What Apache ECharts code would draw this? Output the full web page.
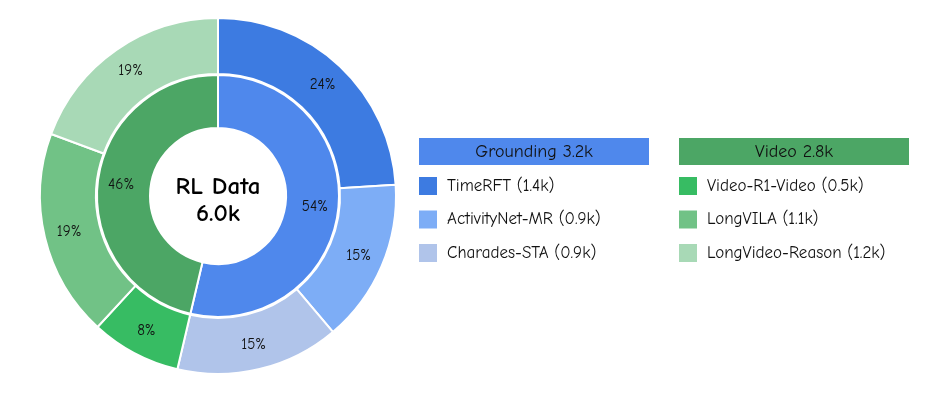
<!DOCTYPE html>
<html><head><meta charset="utf-8">
<script src="https://cdn.jsdelivr.net/npm/echarts@6/dist/echarts.min.js"></script>
<style>html,body{margin:0;padding:0;background:#fff}#c{width:946px;height:394px}</style>
</head><body><div id="c"></div>
<script>
const FONT = '"Comic Sans MS","Comic Neue","DejaVu Sans",sans-serif';
const groupNames = ['Grounding', 'Video'];
const groupValues = [3.22, 2.78];
const groupColors = ['#4F88EC', '#4CA665'];
const groundingNames = ['TimeRFT', 'ActivityNet-MR', 'Charades-STA'];
const groundingValues = [1.44, 0.89, 0.89];
const groundingColors = ['#3D7BE1', '#7DADF6', '#B0C4EA'];
const videoNames = ['Video-R1-Video', 'LongVILA', 'LongVideo-Reason'];
const videoValues = [0.49, 1.13, 1.16];
const videoColors = ['#37BC63', '#71C286', '#A8D9B6'];
const centerTitle = 'RL Data';
const totalValue = 6.0;

const outerData = [];
groundingNames.forEach((n,i)=>outerData.push({name:n,value:groundingValues[i],itemStyle:{color:groundingColors[i]}}));
videoNames.forEach((n,i)=>outerData.push({name:n,value:videoValues[i],itemStyle:{color:videoColors[i]}}));
const innerData = groupNames.map((n,i)=>({name:n,value:groupValues[i],itemStyle:{color:groupColors[i]}}));
const valMap = {};
outerData.forEach(d=>valMap[d.name]=d.value);

const cx = 218, cy = 196;
const chart = echarts.init(document.getElementById('c'));
const pctLabel = {show:true, position:'inside', color:'#111', fontSize:15, fontFamily:FONT,
  formatter:p=>Math.round(p.percent)+'%'};
const legendBase = {orient:'vertical', icon:'rect', itemWidth:18, itemHeight:18, itemGap:15.5,
  padding:0, top:177, selectedMode:false, itemStyle:{borderWidth:0},
  textStyle:{fontSize:17, fontFamily:FONT, color:'#111', padding:[0,0,0,5]},
  formatter:n=>n+' ('+valMap[n].toFixed(1)+'k)'};
chart.setOption({
  animation:false,
  legend:[
    Object.assign({}, legendBase, {left:419, data:groundingNames}),
    Object.assign({}, legendBase, {left:679, data:videoNames})
  ],
  series:[
    {type:'pie', center:[cx,cy], radius:[68,121], startAngle:90, clockwise:true,
     itemStyle:{borderColor:'#fff', borderWidth:2}, label:pctLabel, labelLine:{show:false},
     emphasis:{disabled:true}, data:innerData},
    {type:'pie', center:[cx,cy], radius:[122,178], startAngle:90, clockwise:true,
     itemStyle:{borderColor:'#fff', borderWidth:2}, label:pctLabel, labelLine:{show:false},
     emphasis:{disabled:true}, data:outerData}
  ],
  graphic:[
    {type:'text', x:cx, y:cy+4, style:{text:centerTitle+'\n'+totalValue.toFixed(1)+'k', align:'center', verticalAlign:'middle',
      font:'bold 25px '+FONT, lineHeight:27, fill:'#000'}},
    {type:'rect', shape:{x:419, y:138, width:230, height:27}, style:{fill:groupColors[0]}},
    {type:'text', x:534, y:152, style:{text:groupNames[0]+' '+groupValues[0].toFixed(1)+'k', align:'center', verticalAlign:'middle',
      font:'18px '+FONT, fill:'#111'}},
    {type:'rect', shape:{x:679, y:138, width:230, height:27}, style:{fill:groupColors[1]}},
    {type:'text', x:794, y:152, style:{text:groupNames[1]+' '+groupValues[1].toFixed(1)+'k', align:'center', verticalAlign:'middle',
      font:'18px '+FONT, fill:'#111'}}
  ]
});
</script></body></html>
